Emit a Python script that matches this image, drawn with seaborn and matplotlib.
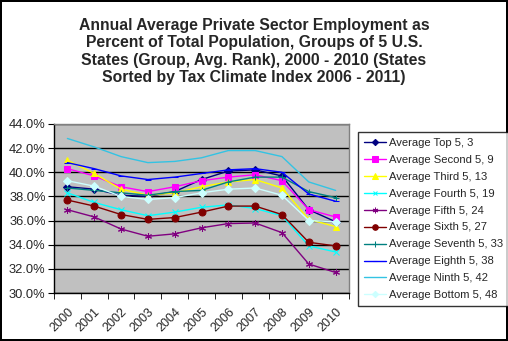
import matplotlib
matplotlib.use("Agg")
import matplotlib.pyplot as plt
import seaborn as sns
import numpy as np
import pandas as pd
from matplotlib.ticker import FixedLocator, FuncFormatter

years = ["2000", "2001", "2002", "2003", "2004", "2005", "2006", "2007", "2008", "2009", "2010"]

top5     = [38.8, 38.6, 38.1, 38.0, 38.4, 39.4, 40.1, 40.2, 39.7, 36.9, 35.9]
second5  = [40.3, 39.7, 38.8, 38.4, 38.8, 39.3, 39.6, 39.8, 39.3, 36.9, 36.3]
third5   = [41.0, 39.9, 38.6, 38.1, 38.3, 38.8, 39.2, 39.4, 38.7, 36.1, 35.5]
fourth5  = [38.3, 37.5, 36.9, 36.4, 36.7, 37.1, 37.3, 37.0, 36.4, 33.9, 33.4]
fifth5   = [36.9, 36.3, 35.3, 34.7, 34.9, 35.4, 35.75, 35.8, 35.0, 32.4, 31.7]
sixth5   = [37.7, 37.2, 36.5, 36.1, 36.25, 36.7, 37.2, 37.2, 36.5, 34.2, 33.9]
seventh5 = [38.7, 38.5, 38.3, 38.1, 38.4, 38.5, 39.2, 39.6, 39.6, 38.4, 37.9]
eighth5  = [40.8, 40.3, 39.7, 39.4, 39.6, 39.9, 40.2, 40.3, 40.0, 38.2, 37.6]
ninth5   = [42.8, 42.1, 41.3, 40.8, 40.9, 41.2, 41.8, 41.8, 41.3, 39.2, 38.5]
bottom5  = [39.3, 38.85, 38.0, 37.75, 37.9, 38.3, 38.6, 38.7, 38.1, 36.0, 35.9]

labels = ["Average Top 5, 3", "Average Second 5, 9", "Average Third 5, 13",
          "Average Fourth 5, 19", "Average Fifth 5, 24", "Average Sixth 5, 27",
          "Average Seventh 5, 33", "Average Eighth 5, 38", "Average Ninth 5, 42",
          "Average Bottom 5, 48"]
series = [top5, second5, third5, fourth5, fifth5, sixth5, seventh5, eighth5, ninth5, bottom5]

colors = ["#000080", "#FF00FF", "#FFFF00", "#00FFFF", "#800080", "#800000",
          "#008080", "#0000FF", "#33C3E3", "#CCFFFF"]
markers = ["D", "s", "^", "x", (6, 2, 0), "o", "+", "_", None, "D"]
msizes = [4, 5, 5, 4, 5, 5, 5, 4, 0, 4]

sns.set_style("white")
plt.rcParams['font.family'] = ['Liberation Sans', 'DejaVu Sans']

fig = plt.figure(figsize=(5.08, 3.41), dpi=100)
fig.patch.set_facecolor("white")
fig.patch.set_edgecolor("black")
fig.patch.set_linewidth(1.5)

ax = fig.add_axes([54/508, 1-293/341, (349-54)/508, (293-124)/341])
ax.set_facecolor("#C0C0C0")

x = np.arange(len(years))
for vals, lab, c, m, ms in zip(series, labels, colors, markers, msizes):
    df = pd.DataFrame({"x": x, "y": vals})
    kw = dict(marker=m, markersize=ms, markeredgecolor=c, markerfacecolor=c) if m is not None else {}
    sns.lineplot(data=df, x="x", y="y", ax=ax, color=c, linewidth=1.0, label=lab, **kw)

ax.set_xlim(-0.5, 10.5)
ax.set_ylim(30, 44)
ax.set_yticks(np.arange(30, 44.1, 2))
ax.yaxis.set_major_formatter(FuncFormatter(lambda v, p: f"{v:.1f}%"))
ax.set_xticks(x)
ax.set_xticklabels(years, rotation=45, ha="right", va="top", rotation_mode="anchor", fontsize=9)
ax.xaxis.set_minor_locator(FixedLocator(np.arange(-0.5, 10.6, 1)))
ax.tick_params(axis="x", which="major", length=0, pad=9)
ax.tick_params(axis="x", which="minor", length=4, direction="out", color="black", bottom=True)
ax.tick_params(axis="y", which="major", length=4, direction="out", color="black", left=True, labelsize=9.3, pad=2)
ax.grid(axis="y", color="black", linewidth=1.0)
ax.set_axisbelow(True)
ax.set_xlabel("")
ax.set_ylabel("")
for s in ["top", "right"]:
    ax.spines[s].set_color("#808080")
    ax.spines[s].set_linewidth(1)
for s in ["left", "bottom"]:
    ax.spines[s].set_color("black")
    ax.spines[s].set_linewidth(1)

leg = ax.legend(loc="upper left", bbox_to_anchor=(358/508, 1-132/341), bbox_transform=fig.transFigure,
                fontsize=8.1, frameon=True, fancybox=False, edgecolor="black",
                handlelength=2.0, handletextpad=0.25, labelspacing=0.62, borderpad=0.5,
                borderaxespad=0, markerscale=0.8)
leg.get_frame().set_linewidth(1)

fig.text(0.5, 1-18/341, "Annual Average Private Sector Employment as\nPercent of Total Population, Groups of 5 U.S.\n"
         "States (Group, Avg. Rank), 2000 - 2010 (States\nSorted by Tax Climate Index 2006 - 2011)",
         ha="center", va="top", fontsize=11.3, fontweight="bold", linespacing=1.2)

fig.savefig("out.png", dpi=100, facecolor=fig.get_facecolor(), edgecolor=fig.get_edgecolor())
